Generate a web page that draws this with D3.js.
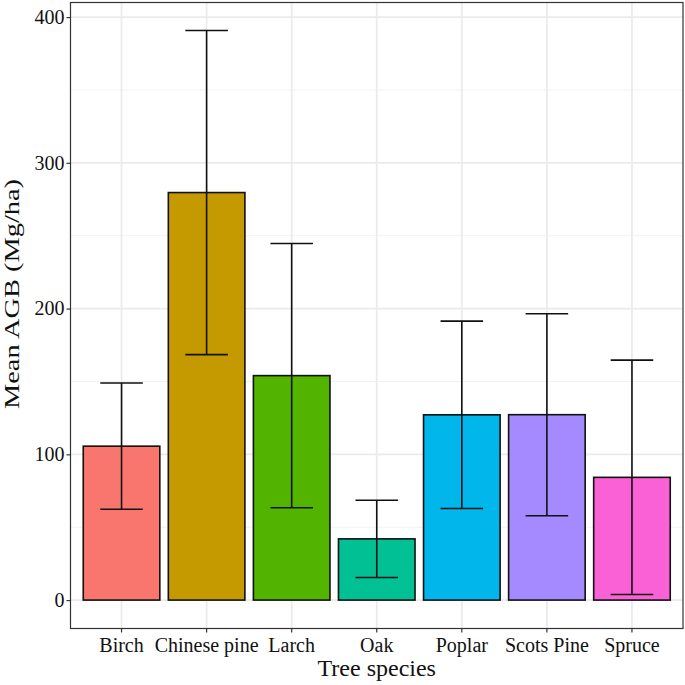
<!DOCTYPE html>
<html><head><meta charset="utf-8">
<script src="https://cdn.jsdelivr.net/npm/d3@7"></script>
<style>body{margin:0;background:#fff}svg{display:block}</style>
</head><body>
<svg id="c" width="685" height="685"></svg>
<script>
const species = ["Birch","Chinese pine","Larch","Oak","Poplar","Scots Pine","Spruce"];
const meanAGB = [105.6,279.6,154,42,127.1,127.2,84.2];
const sdAGB   = [43.3,111.2,90.7,26.5,64.3,69.3,80.4];
const colors  = ["#F8766D","#C49A00","#53B400","#00C094","#00B6EB","#A58AFF","#FB61D7"];
const yTicks  = [0,100,200,300,400];
const yMinor  = [50,150,250,350];

const svg = d3.select("#c");
const L = 70.5, R = 683, T = 2.5, B = 628.5;
// ggplot-style discrete scale: 0.6 units of expansion each side
const x = d3.scaleLinear().domain([-0.6, species.length - 1 + 0.6]).range([L,R]);
const unit = x(1) - x(0);
const xc = d => x(species.indexOf(d));
const y = d3.scaleLinear().domain([-19.5,410]).range([B,T]);

const g = svg.append("g");
g.selectAll(".ymin").data(yMinor).enter().append("line")
  .attr("x1",L).attr("x2",R).attr("y1",d=>y(d)).attr("y2",d=>y(d))
  .attr("stroke","#F2F2F2").attr("stroke-width",1);
g.selectAll(".ymaj").data(yTicks).enter().append("line")
  .attr("x1",L).attr("x2",R).attr("y1",d=>y(d)).attr("y2",d=>y(d))
  .attr("stroke","#EBEBEB").attr("stroke-width",1.8);
g.selectAll(".xmaj").data(species).enter().append("line")
  .attr("x1",d=>xc(d)).attr("x2",d=>xc(d)).attr("y1",T).attr("y2",B)
  .attr("stroke","#EBEBEB").attr("stroke-width",1.8);

const bw = unit*0.9, ew = unit*0.5;
const data = species.map((s,i)=>({s,m:meanAGB[i],sd:sdAGB[i],c:colors[i]}));
g.selectAll(".bar").data(data).enter().append("rect")
  .attr("x",d=>xc(d.s)-bw/2).attr("width",bw)
  .attr("y",d=>y(d.m)).attr("height",d=>y(0)-y(d.m))
  .attr("fill",d=>d.c).attr("stroke","#111").attr("stroke-width",1.6);

const eb = g.selectAll(".eb").data(data).enter().append("g").attr("stroke","#111").attr("stroke-width",1.6);
eb.append("line").attr("x1",d=>xc(d.s)).attr("x2",d=>xc(d.s)).attr("y1",d=>y(d.m+d.sd)).attr("y2",d=>y(d.m-d.sd));
eb.append("line").attr("x1",d=>xc(d.s)-ew/2).attr("x2",d=>xc(d.s)+ew/2).attr("y1",d=>y(d.m+d.sd)).attr("y2",d=>y(d.m+d.sd));
eb.append("line").attr("x1",d=>xc(d.s)-ew/2).attr("x2",d=>xc(d.s)+ew/2).attr("y1",d=>y(d.m-d.sd)).attr("y2",d=>y(d.m-d.sd));

svg.append("rect").attr("x",L).attr("y",T).attr("width",R-L).attr("height",B-T)
  .attr("fill","none").attr("stroke","#333").attr("stroke-width",1.2);

const font = "Liberation Serif, Times New Roman, serif";
const yAxis = svg.append("g").attr("transform",`translate(${L},0)`)
  .call(d3.axisLeft(y).tickValues(yTicks).tickSize(4).tickPadding(2));
yAxis.select(".domain").remove();
yAxis.selectAll("line").attr("stroke","#333").attr("stroke-width",1.2);
yAxis.selectAll("text").attr("font-family",font).attr("font-size",20).attr("fill","#111");

const xAxis = svg.append("g").attr("transform",`translate(0,${B})`);
xAxis.selectAll("line").data(species).enter().append("line")
  .attr("x1",d=>xc(d)).attr("x2",d=>xc(d)).attr("y1",0).attr("y2",4)
  .attr("stroke","#333").attr("stroke-width",1.2);
xAxis.selectAll("text").data(species).enter().append("text")
  .attr("x",d=>xc(d)).attr("y",23).attr("text-anchor","middle")
  .attr("font-family",font).attr("font-size",20).attr("fill","#111").text(d=>d);

svg.append("text").attr("x",(L+R)/2).attr("y",676).attr("text-anchor","middle")
  .attr("font-family",font).attr("font-size",24).attr("fill","#111").text("Tree species");
svg.append("text").attr("transform",`translate(19,294) rotate(-90)`).attr("text-anchor","middle")
  .attr("font-family",font).attr("font-size",22).attr("fill","#111")
  .attr("textLength",230).attr("lengthAdjust","spacingAndGlyphs").text("Mean AGB (Mg/ha)");
</script>
</body></html>
